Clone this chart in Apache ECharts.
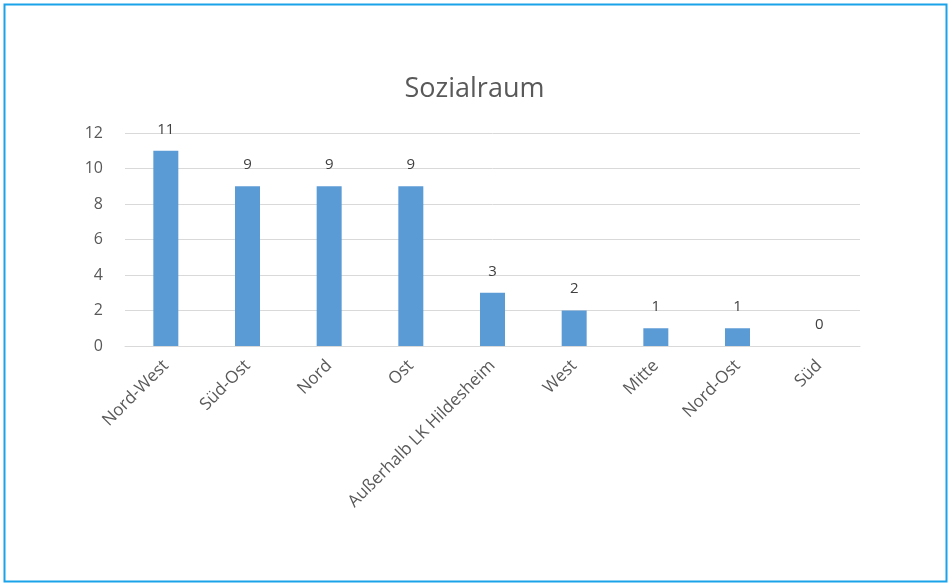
<!DOCTYPE html>
<html>
<head>
    <meta charset="utf-8">
    <title>Sozialraum</title>
    <script src="https://cdn.jsdelivr.net/npm/echarts@6/dist/echarts.min.js"></script>
    <style>
        html, body { margin: 0; padding: 0; background: #fff; }
        #main { width: 949px; height: 583px; }
    </style>
</head>
<body>
    <div id="main"></div>
    <script>
        const categories = ['Nord-West', 'Süd-Ost', 'Nord', 'Ost', 'Außerhalb LK Hildesheim', 'West', 'Mitte', 'Nord-Ost', 'Süd'];
        const counts = [11, 9, 9, 9, 3, 2, 1, 1, 0];
        const yTicks = [0, 2, 4, 6, 8, 10, 12];

        const chart = echarts.init(document.getElementById('main'));
        const font = "'Open Sans', 'Noto Sans', sans-serif";

        chart.setOption({
            animation: false,
            title: {
                text: 'Sozialraum',
                left: 'center',
                top: 71,
                textStyle: { fontFamily: font, fontSize: 27, fontWeight: 'normal', color: '#595959' }
            },
            graphic: [{
                type: 'rect',
                shape: { x: 4.5, y: 4.5, width: 942, height: 577 },
                style: { fill: 'none', stroke: '#1AA3E8', lineWidth: 2 }
            }],
            grid: { left: 125, right: 89, top: 133, bottom: 237 },
            xAxis: {
                type: 'category',
                data: categories,
                axisTick: { show: false },
                axisLine: { lineStyle: { color: '#d9d9d9' } },
                axisLabel: {
                    rotate: 45,
                    interval: 0,
                    margin: 17,
                    fontFamily: font,
                    fontSize: 17,
                    color: '#595959'
                }
            },
            yAxis: {
                type: 'value',
                min: yTicks[0],
                max: yTicks[yTicks.length - 1],
                interval: 2,
                axisLine: { show: false },
                axisTick: { show: false },
                splitLine: { lineStyle: { color: '#d9d9d9' } },
                axisLabel: { margin: 22, fontFamily: font, fontSize: 16, color: '#595959' }
            },
            series: [{
                type: 'bar',
                data: counts,
                barWidth: 25,
                itemStyle: { color: '#5B9BD5' },
                label: {
                    show: true,
                    position: 'top',
                    distance: 14,
                    fontFamily: font,
                    fontSize: 15,
                    color: '#404040'
                }
            }]
        });
    </script>
</body>
</html>
